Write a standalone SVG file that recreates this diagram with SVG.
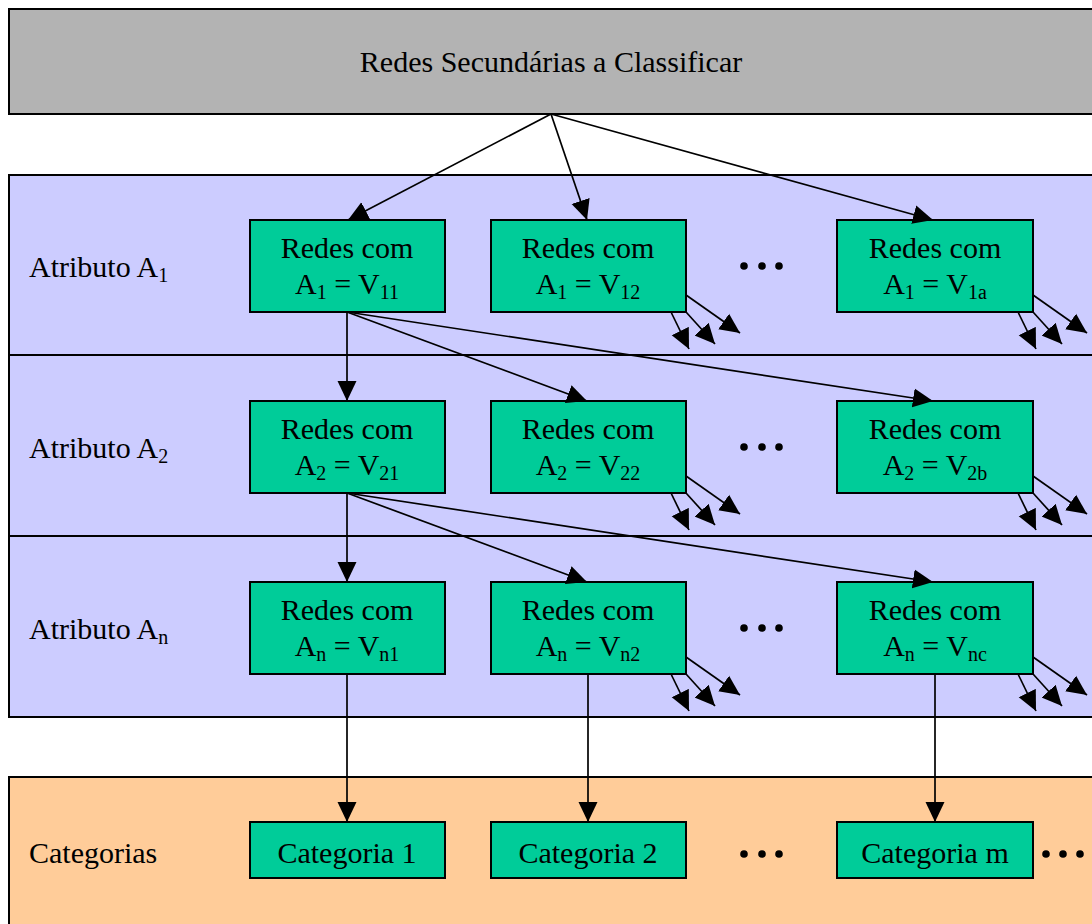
<svg xmlns="http://www.w3.org/2000/svg" width="1092" height="924" viewBox="0 0 1092 924">
<defs>
<marker id="ah" markerUnits="userSpaceOnUse" markerWidth="22" markerHeight="22" viewBox="0 0 22 22" refX="20" refY="11" orient="auto">
<path d="M0,1.5 L20,11 L0,20.5 z" fill="#000"/>
</marker>
<style>
text{font-family:"Liberation Serif","Times New Roman",serif;fill:#000}
.t{font-size:30px;text-anchor:middle}
.l{font-size:30px}
.s{font-size:20px}
.node{fill:#00CC99;stroke:#000;stroke-width:2}
.band{stroke:#000;stroke-width:2}
.c line{stroke:#000;stroke-width:1.7;marker-end:url(#ah)}
.dot{fill:#000}
</style>
</defs>
<rect id="top" class="band" x="9" y="9" width="1100" height="105" fill="#B3B3B3"/>
<text x="551" y="72" class="t" font-size="29">Redes Secundárias a Classificar</text>
<g id="bands">
<rect class="band" x="9" y="175" width="1100" height="542" fill="#CCCCFF"/>
<line x1="9" y1="355" x2="1092" y2="355" stroke="#000" stroke-width="2"/>
<line x1="9" y1="536" x2="1092" y2="536" stroke="#000" stroke-width="2"/>
<rect class="band" x="9" y="777" width="1100" height="160" fill="#FFCC99"/>
</g>
<g id="labels">
<text class="l" x="29" y="277">Atributo A<tspan class="s" dy="5">1</tspan></text>
<text class="l" x="29" y="458">Atributo A<tspan class="s" dy="5">2</tspan></text>
<text class="l" x="29" y="639">Atributo A<tspan class="s" dy="5">n</tspan></text>
<text class="l" x="29" y="863">Categorias</text>
</g>
<g id="n11"><rect class="node" x="250" y="220" width="195" height="92"/><text class="t" x="347" y="258">Redes com</text><text class="t" x="347" y="294">A<tspan class="s" dy="5">1</tspan><tspan dy="-5"> = V</tspan><tspan class="s" dy="5">11</tspan></text></g>
<g id="n12"><rect class="node" x="491" y="220" width="195" height="92"/><text class="t" x="588" y="258">Redes com</text><text class="t" x="588" y="294">A<tspan class="s" dy="5">1</tspan><tspan dy="-5"> = V</tspan><tspan class="s" dy="5">12</tspan></text></g>
<g id="n1a"><rect class="node" x="837" y="220" width="196" height="92"/><text class="t" x="935" y="258">Redes com</text><text class="t" x="935" y="294">A<tspan class="s" dy="5">1</tspan><tspan dy="-5"> = V</tspan><tspan class="s" dy="5">1a</tspan></text></g>
<g id="n21"><rect class="node" x="250" y="401" width="195" height="92"/><text class="t" x="347" y="439">Redes com</text><text class="t" x="347" y="475">A<tspan class="s" dy="5">2</tspan><tspan dy="-5"> = V</tspan><tspan class="s" dy="5">21</tspan></text></g>
<g id="n22"><rect class="node" x="491" y="401" width="195" height="92"/><text class="t" x="588" y="439">Redes com</text><text class="t" x="588" y="475">A<tspan class="s" dy="5">2</tspan><tspan dy="-5"> = V</tspan><tspan class="s" dy="5">22</tspan></text></g>
<g id="n2b"><rect class="node" x="837" y="401" width="196" height="92"/><text class="t" x="935" y="439">Redes com</text><text class="t" x="935" y="475">A<tspan class="s" dy="5">2</tspan><tspan dy="-5"> = V</tspan><tspan class="s" dy="5">2b</tspan></text></g>
<g id="nn1"><rect class="node" x="250" y="582" width="195" height="92"/><text class="t" x="347" y="620">Redes com</text><text class="t" x="347" y="656">A<tspan class="s" dy="5">n</tspan><tspan dy="-5"> = V</tspan><tspan class="s" dy="5">n1</tspan></text></g>
<g id="nn2"><rect class="node" x="491" y="582" width="195" height="92"/><text class="t" x="588" y="620">Redes com</text><text class="t" x="588" y="656">A<tspan class="s" dy="5">n</tspan><tspan dy="-5"> = V</tspan><tspan class="s" dy="5">n2</tspan></text></g>
<g id="nnc"><rect class="node" x="837" y="582" width="196" height="92"/><text class="t" x="935" y="620">Redes com</text><text class="t" x="935" y="656">A<tspan class="s" dy="5">n</tspan><tspan dy="-5"> = V</tspan><tspan class="s" dy="5">nc</tspan></text></g>
<g id="c1"><rect class="node" x="250" y="822" width="195" height="56"/><text class="t" x="347" y="863">Categoria 1</text></g>
<g id="c2"><rect class="node" x="491" y="822" width="195" height="56"/><text class="t" x="588" y="863">Categoria 2</text></g>
<g id="cm"><rect class="node" x="837" y="822" width="196" height="56"/><text class="t" x="935" y="863">Categoria m</text></g>
<g id="dots" class="dot">
<circle cx="744" cy="266" r="3.8"/><circle cx="762" cy="266" r="3.8"/><circle cx="779" cy="266" r="3.8"/>
<circle cx="744" cy="447" r="3.8"/><circle cx="762" cy="447" r="3.8"/><circle cx="779" cy="447" r="3.8"/>
<circle cx="744" cy="628" r="3.8"/><circle cx="762" cy="628" r="3.8"/><circle cx="779" cy="628" r="3.8"/>
<circle cx="744" cy="854" r="3.8"/><circle cx="762" cy="854" r="3.8"/><circle cx="779" cy="854" r="3.8"/>
<circle cx="1046" cy="854" r="3.8"/><circle cx="1063" cy="854" r="3.8"/><circle cx="1080" cy="854" r="3.8"/>
</g>
<g id="connectors" class="c">
<line x1="551" y1="114" x2="348" y2="220"/>
<line x1="551" y1="114" x2="587" y2="220"/>
<line x1="551" y1="114" x2="933" y2="220"/>
<line x1="347" y1="312" x2="347" y2="401"/>
<line x1="347" y1="312" x2="587" y2="401"/>
<line x1="347" y1="312" x2="933" y2="401"/>
<line x1="347" y1="493" x2="347" y2="582"/>
<line x1="347" y1="493" x2="587" y2="582"/>
<line x1="347" y1="493" x2="933" y2="582"/>
<line x1="347" y1="674" x2="347" y2="822"/>
<line x1="588" y1="674" x2="588" y2="822"/>
<line x1="935" y1="674" x2="935" y2="822"/>
<line x1="686" y1="295" x2="740" y2="333"/><line x1="686" y1="312" x2="715" y2="344"/><line x1="671" y1="312" x2="689" y2="349"/>
<line x1="1033" y1="295" x2="1087" y2="333"/><line x1="1033" y1="312" x2="1062" y2="344"/><line x1="1018" y1="312" x2="1036" y2="349"/>
<line x1="686" y1="476" x2="740" y2="514"/><line x1="686" y1="493" x2="715" y2="525"/><line x1="671" y1="493" x2="689" y2="530"/>
<line x1="1033" y1="476" x2="1087" y2="514"/><line x1="1033" y1="493" x2="1062" y2="525"/><line x1="1018" y1="493" x2="1036" y2="530"/>
<line x1="686" y1="657" x2="740" y2="695"/><line x1="686" y1="674" x2="715" y2="706"/><line x1="671" y1="674" x2="689" y2="711"/>
<line x1="1033" y1="657" x2="1087" y2="695"/><line x1="1033" y1="674" x2="1062" y2="706"/><line x1="1018" y1="674" x2="1036" y2="711"/>
</g>
</svg>
